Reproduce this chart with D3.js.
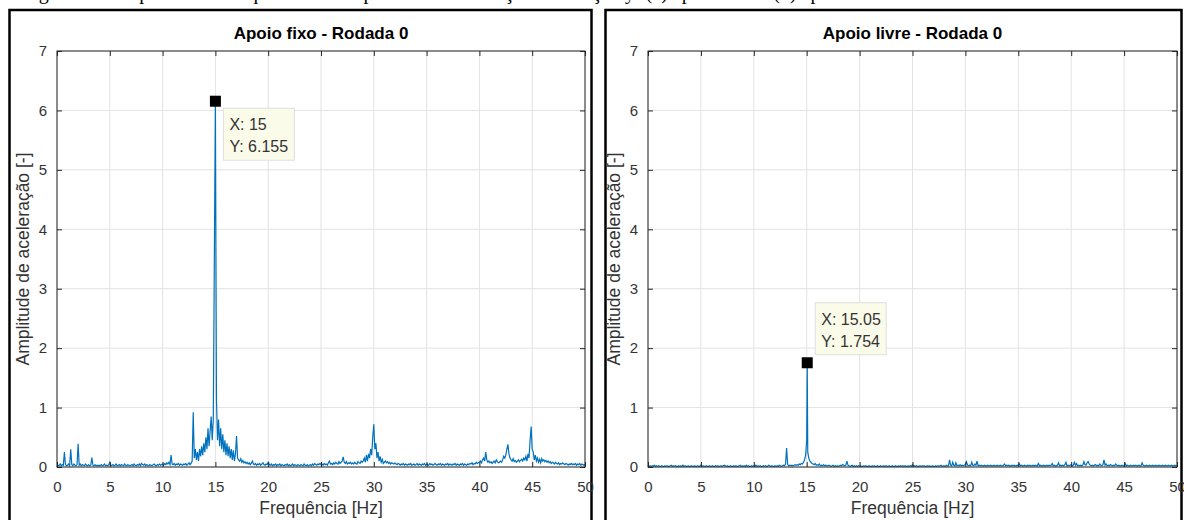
<!DOCTYPE html>
<html>
<head>
<meta charset="utf-8">
<script src="https://cdn.jsdelivr.net/npm/d3@7"></script>
<style>
  body { margin: 0; background: #fff; }
  svg { display: block; }
  text { font-family: Arial, "Liberation Sans", Helvetica, sans-serif; }
</style>
</head>
<body>
<script>
// spectrum amplitudes, one value every 0.1 Hz from 0 to 50 Hz
var freqStep = 0.1;

var fixoAmp = [
  0,.03,.02,.05,.02,.04,.03,.25,.04,.02,
  .03,.05,.02,.3,.04,.02,.05,.03,.02,.04,
  .39,.03,.05,.02,.04,.03,.02,.05,.03,.02,
  .04,.02,.03,.16,.03,.02,.04,.02,.03,.02,
  .03,.02,.04,.02,.03,.05,.02,.03,.02,.04,
  .08,.02,.03,.04,.02,.03,.05,.02,.03,.04,
  .02,.04,.03,.02,.05,.03,.02,.04,.03,.02,
  .03,.04,.02,.05,.03,.02,.04,.03,.05,.02,
  .06,.04,.03,.05,.02,.04,.03,.02,.04,.03,
  .02,.04,.05,.03,.02,.04,.03,.05,.03,.04,
  .05,.03,.06,.04,.07,.05,.08,.04,.2,.05,
  .04,.06,.03,.05,.04,.06,.03,.05,.04,.03,
  .05,.04,.06,.03,.05,.07,.04,.06,.1,.92,
  .15,.3,.12,.25,.1,.3,.18,.35,.2,.4,
  .25,.5,.3,.65,.35,.6,.85,.45,.8,3.5,
  6.155,1.15,.45,.8,.35,.65,.3,.55,.25,.45,
  .2,.4,.18,.35,.15,.3,.12,.28,.1,.22,
  .52,.15,.12,.1,.14,.08,.11,.07,.09,.06,
  .08,.05,.07,.04,.06,.1,.05,.04,.06,.03,
  .05,.04,.06,.03,.05,.07,.04,.03,.05,.04,
  .08,.04,.03,.05,.02,.04,.03,.05,.02,.04,
  .03,.05,.02,.04,.03,.02,.04,.03,.05,.02,
  .04,.02,.03,.05,.02,.04,.03,.02,.04,.03,
  .02,.04,.03,.02,.05,.03,.02,.04,.02,.03,
  .04,.02,.05,.03,.06,.04,.03,.05,.04,.06,
  .04,.05,.03,.06,.04,.05,.03,.07,.1,.05,
  .06,.04,.07,.05,.08,.06,.05,.09,.06,.08,
  .1,.17,.08,.06,.09,.05,.07,.06,.08,.05,
  .07,.05,.08,.06,.05,.09,.07,.06,.1,.08,
  .1,.15,.08,.2,.1,.22,.15,.3,.2,.5,
  .72,.3,.4,.15,.25,.1,.18,.08,.13,.06,
  .08,.1,.07,.09,.06,.08,.05,.07,.06,.05,
  .07,.05,.04,.06,.05,.03,.05,.04,.06,.03,
  .05,.04,.03,.05,.04,.06,.03,.04,.05,.03,
  .04,.06,.03,.05,.04,.03,.05,.04,.06,.03,
  .05,.04,.03,.06,.04,.05,.03,.04,.06,.04,
  .03,.05,.04,.06,.03,.05,.04,.03,.05,.04,
  .06,.03,.05,.04,.03,.05,.04,.06,.03,.05,
  .04,.03,.05,.04,.06,.03,.05,.04,.03,.05,
  .04,.06,.05,.07,.04,.06,.05,.08,.06,.07,
  .08,.1,.07,.12,.15,.1,.25,.12,.08,.1,
  .07,.09,.06,.08,.1,.07,.12,.09,.07,.08,
  .1,.08,.12,.18,.15,.2,.3,.38,.22,.15,
  .12,.1,.14,.09,.11,.08,.1,.12,.09,.11,
  .13,.1,.15,.12,.18,.1,.22,.15,.45,.68,
  .3,.25,.12,.2,.1,.15,.08,.13,.07,.14,
  .1,.12,.09,.11,.08,.1,.07,.09,.06,.08,
  .07,.05,.08,.06,.05,.07,.04,.06,.05,.07,
  .05,.04,.06,.05,.03,.05,.04,.06,.04,.05,
  .04,.06,.03,.05,.04,.06,.03,.05,.04,.03,
  .05
];

var livreAmp = [
  0,.01,.02,.01,.02,.01,.03,.01,.02,.01,
  .02,.01,.01,.02,.01,.01,.02,.01,.02,.01,
  .01,.02,.03,.01,.02,.01,.02,.01,.01,.02,
  .01,.02,.01,.03,.01,.02,.01,.01,.02,.01,
  .01,.02,.01,.01,.02,.01,.01,.02,.01,.01,
  .03,.01,.02,.01,.01,.02,.01,.01,.02,.01,
  .01,.02,.01,.01,.02,.01,.02,.01,.01,.02,
  .01,.02,.03,.02,.01,.02,.01,.01,.02,.01,
  .01,.02,.01,.02,.01,.01,.02,.03,.01,.02,
  .01,.02,.01,.03,.01,.02,.01,.01,.02,.01,
  .02,.01,.03,.01,.02,.01,.02,.01,.01,.02,
  .01,.02,.01,.01,.03,.02,.01,.02,.01,.01,
  .02,.01,.02,.01,.03,.02,.01,.02,.03,.02,
  .05,.32,.04,.02,.03,.02,.03,.02,.03,.04,
  .03,.04,.03,.05,.04,.06,.05,.08,.12,.2,
  .45,.25,.15,.1,.08,.06,.05,.04,.06,.03,
  .04,.03,.05,.02,.03,.02,.04,.02,.03,.02,
  .02,.03,.02,.01,.02,.03,.01,.02,.01,.02,
  .01,.02,.03,.02,.04,.03,.02,.03,.1,.03,
  .02,.01,.02,.03,.01,.02,.01,.02,.01,.02,
  .01,.02,.01,.01,.02,.01,.02,.01,.01,.02,
  .01,.01,.02,.01,.02,.01,.01,.02,.01,.01,
  .02,.01,.01,.02,.01,.02,.01,.01,.02,.01,
  .01,.02,.01,.01,.02,.01,.01,.02,.01,.02,
  .01,.02,.01,.02,.01,.01,.02,.01,.02,.01,
  .04,.01,.02,.01,.02,.01,.01,.02,.01,.02,
  .01,.02,.01,.01,.02,.01,.02,.01,.01,.02,
  .01,.01,.02,.01,.02,.01,.02,.03,.01,.02,
  .02,.01,.03,.02,.02,.12,.03,.02,.08,.03,
  .02,.07,.02,.03,.02,.04,.02,.03,.02,.03,
  .04,.09,.03,.02,.03,.02,.08,.03,.02,.05,
  .03,.1,.02,.03,.02,.03,.02,.02,.03,.02,
  .02,.03,.02,.02,.03,.02,.02,.03,.02,.02,
  .03,.02,.02,.03,.02,.02,.03,.05,.02,.03,
  .02,.03,.02,.02,.03,.02,.03,.02,.02,.03,
  .02,.05,.02,.03,.02,.02,.03,.02,.02,.03,
  .02,.03,.02,.02,.03,.02,.03,.02,.02,.06,
  .02,.03,.02,.02,.03,.02,.02,.03,.02,.03,
  .02,.03,.06,.02,.03,.02,.02,.03,.07,.02,
  .03,.02,.03,.02,.04,.08,.02,.03,.02,.03,
  .04,.02,.03,.08,.03,.06,.02,.03,.02,.03,
  .02,.03,.09,.04,.03,.07,.09,.05,.03,.02,
  .03,.02,.03,.04,.02,.03,.02,.05,.03,.02,
  .04,.12,.03,.05,.02,.03,.02,.04,.03,.02,
  .03,.02,.05,.03,.02,.03,.02,.02,.03,.02,
  .02,.06,.02,.03,.02,.02,.03,.02,.02,.03,
  .02,.03,.02,.02,.03,.02,.02,.07,.03,.02,
  .02,.03,.02,.02,.03,.02,.02,.03,.02,.02,
  .03,.02,.02,.03,.02,.02,.03,.02,.02,.03,
  .02,.02,.03,.02,.02,.03,.02,.02,.03,.02,
  .02
];

// points that fall between the 0.1 Hz steps
var fixoExtra = [];
var livreExtra = [[15.05, 1.754]];

var tipFixo = {x: 15, y: 6.155};
var tipLivre = {x: 15.05, y: 1.754};

var titleFixo = "Apoio fixo - Rodada 0";
var titleLivre = "Apoio livre - Rodada 0";

var xTicks = [0, 5, 10, 15, 20, 25, 30, 35, 40, 45, 50];
var yTicks = [0, 1, 2, 3, 4, 5, 6, 7];
var xLabel = "Frequência [Hz]";
var yLabel = "Amplitude de aceleração [-]";
var caption = "Figura 12 – Espectros de frequência da amplitude de aceleração na direção y: (a) apoio fixo e (b) apoio livre";

var W = 1184, H = 520;
var plotTop = 51, plotBottom = 467;
var lineColor = "#0072BD", axisColor = "#262626", gridColor = "#e3e3e3";

var svg = d3.select("body").append("svg")
  .attr("width", W)
  .attr("height", H);

// cut-off caption of the page above the figures, only descenders show
svg.append("text")
  .attr("x", 22)
  .attr("y", -1)
  .style("font-family", "'Liberation Serif', 'DejaVu Serif', serif")
  .style("font-size", "20px")
  .attr("fill", "#000")
  .text(caption);

var panels = [
  {title: titleFixo, amp: fixoAmp, extra: fixoExtra, tip: tipFixo,
   left: 57, right: 585, frameL: 9.5, frameR: 591.5, tipBelow: true},
  {title: titleLivre, amp: livreAmp, extra: livreExtra, tip: tipLivre,
   left: 648, right: 1177, frameL: 605.5, frameR: 1181.5, tipBelow: false}
];

function toPoints(amp, extra) {
  var pts = amp.map(function(a, i) { return [+(i * freqStep).toFixed(2), a]; });
  extra.forEach(function(p) { pts.push(p); });
  pts.sort(function(a, b) { return a[0] - b[0]; });
  return pts;
}

panels.forEach(function(p) {
  // outer frame around each figure
  svg.append("rect")
    .attr("x", p.frameL)
    .attr("y", 10)
    .attr("width", p.frameR - p.frameL)
    .attr("height", H + 20)
    .attr("fill", "none")
    .attr("stroke", "#000")
    .attr("stroke-width", 2.5);

  var x = d3.scaleLinear().domain([0, 50]).range([p.left, p.right]);
  var y = d3.scaleLinear().domain([0, 7]).range([plotBottom, plotTop]);

  var g = svg.append("g");

  //grid
  g.append("g").selectAll("line").data(xTicks).enter().append("line")
    .attr("x1", function(d) { return x(d); })
    .attr("x2", function(d) { return x(d); })
    .attr("y1", plotTop).attr("y2", plotBottom)
    .attr("stroke", gridColor);
  g.append("g").selectAll("line").data(yTicks).enter().append("line")
    .attr("y1", function(d) { return y(d); })
    .attr("y2", function(d) { return y(d); })
    .attr("x1", p.left).attr("x2", p.right)
    .attr("stroke", gridColor);

  //spectrum
  var line = d3.line()
    .x(function(d) { return x(d[0]); })
    .y(function(d) { return y(d[1]); });
  g.append("path")
    .datum(toPoints(p.amp, p.extra))
    .attr("fill", "none")
    .attr("stroke", lineColor)
    .attr("stroke-width", 1.2)
    .attr("d", line);

  //axes, ticks pointing inside like matlab
  var fmt = function(d) { return d; };
  var bottom = g.append("g")
    .attr("transform", "translate(0," + plotBottom + ")")
    .call(d3.axisBottom(x).tickValues(xTicks).tickFormat(fmt).tickSizeInner(-5).tickSizeOuter(0).tickPadding(14));
  var leftAx = g.append("g")
    .attr("transform", "translate(" + p.left + ",0)")
    .call(d3.axisLeft(y).tickValues(yTicks).tickFormat(fmt).tickSizeInner(-5).tickSizeOuter(0).tickPadding(10));
  var topAx = g.append("g")
    .attr("transform", "translate(0," + plotTop + ")")
    .call(d3.axisTop(x).tickValues(xTicks).tickSizeInner(-5).tickSizeOuter(0).tickFormat(""));
  var rightAx = g.append("g")
    .attr("transform", "translate(" + p.right + ",0)")
    .call(d3.axisRight(y).tickValues(yTicks).tickSizeInner(-5).tickSizeOuter(0).tickFormat(""));

  [bottom, leftAx, topAx, rightAx].forEach(function(a) {
    a.select(".domain").remove();
    a.selectAll("line").attr("stroke", axisColor);
    a.selectAll("text")
      .attr("fill", "#333")
      .style("font-size", "15px")
      .style("font-family", "Arial, 'Liberation Sans', sans-serif");
  });

  g.append("rect")
    .attr("x", p.left).attr("y", plotTop)
    .attr("width", p.right - p.left).attr("height", plotBottom - plotTop)
    .attr("fill", "none")
    .attr("stroke", axisColor)
    .attr("stroke-width", 1);

  //labels
  g.append("text")
    .attr("x", (p.left + p.right) / 2)
    .attr("y", 39)
    .attr("text-anchor", "middle")
    .style("font-size", "17px")
    .style("font-weight", "bold")
    .attr("fill", "#000")
    .text(p.title);
  g.append("text")
    .attr("x", (p.left + p.right) / 2)
    .attr("y", 514)
    .attr("text-anchor", "middle")
    .style("font-size", "17.5px")
    .attr("fill", "#333")
    .text(xLabel);
  g.append("text")
    .attr("transform", "translate(" + (p.left - 28) + "," + (plotTop + plotBottom) / 2 + ") rotate(-90)")
    .attr("text-anchor", "middle")
    .style("font-size", "17.5px")
    .attr("fill", "#333")
    .text(yLabel);

  //data tip
  var mx = x(p.tip.x), my = y(p.tip.y);
  var bw = 71, bh = 52;
  var bx = mx + 8, by = p.tipBelow ? my + 7 : my - 8 - bh;
  g.append("rect")
    .attr("x", bx).attr("y", by)
    .attr("width", bw).attr("height", bh)
    .attr("fill", "#fbfbe9")
    .attr("stroke", "#dedede");
  g.append("text")
    .attr("x", bx + 6).attr("y", by + 22)
    .style("font-size", "16px")
    .attr("fill", "#333")
    .text("X: " + p.tip.x);
  g.append("text")
    .attr("x", bx + 6).attr("y", by + 44)
    .style("font-size", "16px")
    .attr("fill", "#333")
    .text("Y: " + p.tip.y);
  g.append("rect")
    .attr("x", mx - 5.5).attr("y", my - 5.5)
    .attr("width", 11).attr("height", 11)
    .attr("fill", "#000");
});
</script>
</body>
</html>
